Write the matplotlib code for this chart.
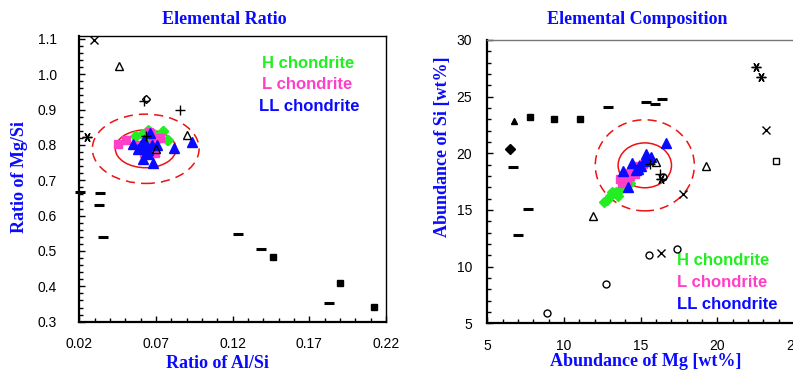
#!/usr/bin/env python3

import matplotlib
matplotlib.use('Agg')
import matplotlib.pyplot as plt
from matplotlib.patches import Ellipse
from matplotlib.ticker import MultipleLocator

# ---- left panel: Mg/Si vs Al/Si ----
h_alsi = [0.057, 0.0656, 0.0748, 0.0774, 0.061, 0.069, 0.072, 0.064, 0.0705, 0.0563, 0.0648, 0.078, 0.0744]
h_mgsi = [0.824, 0.838, 0.838, 0.813, 0.830, 0.832, 0.826, 0.820, 0.815, 0.824, 0.843, 0.815, 0.838]
l_alsi = [0.0454, 0.0505, 0.0705, 0.0694, 0.0622, 0.066, 0.0726, 0.059, 0.0683, 0.0657, 0.064]
l_mgsi = [0.803, 0.815, 0.820, 0.777, 0.777, 0.832, 0.820, 0.800, 0.808, 0.837, 0.790]
ll_alsi = [0.0552, 0.0583, 0.0617, 0.0683, 0.066, 0.082, 0.0937, 0.060, 0.063, 0.065,
           0.0675, 0.0705, 0.062, 0.0645, 0.0595]
ll_mgsi = [0.803, 0.788, 0.760, 0.750, 0.834, 0.790, 0.808, 0.800, 0.795, 0.785,
           0.800, 0.800, 0.815, 0.775, 0.790]

r_tri_x = [0.0459, 0.090, 0.070]
r_tri_y = [1.022, 0.829, 0.788]
r_cross_x = [0.0296]
r_cross_y = [1.098]
r_ast_x = [0.025]
r_ast_y = [0.822]
r_plus_x = [0.0622, 0.0859, 0.0633]
r_plus_y = [0.923, 0.900, 0.826]
r_dia_x = [0.0633]
r_dia_y = [0.931]
r_dash_x = [0.0205, 0.0335, 0.0326, 0.0353, 0.1235, 0.1387, 0.1826]
r_dash_y = [0.667, 0.663, 0.631, 0.540, 0.548, 0.505, 0.354]
r_sq_x = [0.1461, 0.1898, 0.2122]
r_sq_y = [0.482, 0.410, 0.341]

r_center = (0.0633, 0.789)
r_inner = (0.0396, 0.107)
r_outer = (0.0696, 0.196)

# ---- right panel: Si vs Mg [wt%] ----
h_mg = [12.6, 12.8, 13.0, 13.2, 13.4, 13.66, 13.9, 14.1, 14.31, 13.5, 13.1]
h_si = [15.7, 15.85, 16.2, 16.5, 16.6, 16.8, 17.1, 17.2, 17.4, 16.2, 16.6]
l_mg = [13.66, 13.8, 14.0, 14.2, 14.31, 14.5, 14.74, 14.9, 15.18, 14.1, 14.6]
l_si = [17.7, 17.4, 17.9, 18.3, 18.0, 18.6, 18.79, 18.9, 19.08, 17.6, 18.2]
ll_mg = [13.83, 14.46, 15.33, 15.66, 16.64, 14.16, 14.85, 15.0, 15.2, 14.7, 15.5, 14.9]
ll_si = [18.43, 19.14, 19.97, 19.67, 20.9, 17.03, 18.64, 18.9, 19.3, 18.5, 19.5, 18.9]

c_ast_x = [22.55, 22.83, 16.3]
c_ast_y = [27.59, 26.77, 17.7]
c_cross_x = [23.2, 17.79, 16.31]
c_cross_y = [22.1, 16.38, 11.21]
c_osq_x = [23.81]
c_osq_y = [19.29]
c_tri_x = [19.25, 11.92, 16.02]
c_tri_y = [18.87, 14.45, 19.23]
c_circ_x = [15.53, 17.35, 12.72, 8.87, 16.45]
c_circ_y = [11.07, 11.54, 8.46, 5.88, 17.9]
c_dia_x = [6.50]
c_dia_y = [20.37]
c_ftri_x = [6.76]
c_ftri_y = [22.83]
c_sq_x = [7.79, 9.33, 11.05]
c_sq_y = [23.22, 23.05, 23.05]
c_dash_x = [12.89, 15.37, 15.94, 16.37, 6.66, 7.63, 6.98]
c_dash_y = [24.13, 24.57, 24.37, 24.8, 18.76, 15.12, 12.77]
c_plus_x = [15.61, 16.25]
c_plus_y = [19.02, 18.2]

c_center = (15.27, 18.94)
c_inner = (3.48, 3.96)
c_outer = (6.46, 8.04)

green = '#22ee22'
pink = '#ff3fc8'
blue = '#0a0aff'
red = '#ee1111'
ast = (6, 2, 90)

serif = 'Liberation Serif'
sans = 'Liberation Sans'

fig = plt.figure(figsize=(7.93, 3.72), dpi=100)
ax1 = fig.add_axes([0.1, 0.1352, 0.3868, 0.768])
ax2 = fig.add_axes([0.6145, 0.1309, 0.3868, 0.7616])


def style(ax, ypad):
    ax.tick_params(which='both', direction='in', top=False, right=False)
    ax.tick_params(which='major', length=4, width=1)
    ax.tick_params(which='minor', length=3, width=1)
    ax.tick_params(axis='y', pad=ypad)
    ax.tick_params(axis='x', pad=11)
    for lab in ax.get_xticklabels() + ax.get_yticklabels():
        lab.set_fontfamily(sans)
        lab.set_fontsize(10)
    ax.spines['left'].set_linewidth(1.6)
    ax.spines['bottom'].set_linewidth(1.6)
    ax.spines['top'].set_linewidth(1.0)
    ax.spines['right'].set_linewidth(1.0)


def black(ax, x, y, m, ms, fill=True, mew=1.0):
    ax.plot(x, y, linestyle='none', marker=m, markersize=ms,
            markerfacecolor='black' if fill else 'none', markeredgecolor='black',
            markeredgewidth=mew, clip_on=False, zorder=4)


# left panel
ax1.add_patch(Ellipse(r_center, r_outer[0], r_outer[1], fill=False, ec=red, lw=1.1,
                      ls=(0, (6, 4)), zorder=2))
ax1.add_patch(Ellipse(r_center, r_inner[0], r_inner[1], fill=False, ec=red, lw=1.1, zorder=2))
ax1.plot(h_alsi, h_mgsi, 'D', color=green, ms=5, mec=green, zorder=3)
ax1.plot(l_alsi, l_mgsi, 's', color=pink, ms=5.5, mec=pink, zorder=3)
ax1.plot(ll_alsi, ll_mgsi, '^', color=blue, ms=6.5, mec=blue, zorder=3)
black(ax1, r_tri_x, r_tri_y, '^', 6, fill=False)
black(ax1, r_cross_x, r_cross_y, 'x', 6)
black(ax1, r_ast_x, r_ast_y, ast, 7)
black(ax1, r_plus_x, r_plus_y, '+', 7)
black(ax1, r_dia_x, r_dia_y, 'D', 4, fill=False)
black(ax1, r_dash_x, r_dash_y, '_', 7, mew=2.2)
black(ax1, r_sq_x, r_sq_y, 's', 4)

ax1.set_xlim(0.02, 0.22)
ax1.set_ylim(0.3, 1.108)
ax1.set_xticks([0.02, 0.07, 0.12, 0.17, 0.22])
ax1.set_xticklabels(['0.02', '0.07', '0.12', '0.17', '0.22'])
ax1.set_yticks([0.3, 0.4, 0.5, 0.6, 0.7, 0.8, 0.9, 1.0, 1.1])
ax1.xaxis.set_minor_locator(MultipleLocator(0.01))
ax1.yaxis.set_minor_locator(MultipleLocator(0.02))
style(ax1, 16)

ax1.text(0.595, 0.905, 'H chondrite', transform=ax1.transAxes, color=green,
         fontfamily=sans, fontweight='bold', fontsize=12, va='center')
ax1.text(0.595, 0.83, 'L chondrite', transform=ax1.transAxes, color=pink,
         fontfamily=sans, fontweight='bold', fontsize=12, va='center')
ax1.text(0.587, 0.755, 'LL chondrite', transform=ax1.transAxes, color=blue,
         fontfamily=sans, fontweight='bold', fontsize=12, va='center')

# right panel
ax2.add_patch(Ellipse(c_center, c_outer[0], c_outer[1], fill=False, ec=red, lw=1.1,
                      ls=(0, (6, 4)), zorder=2))
ax2.add_patch(Ellipse(c_center, c_inner[0], c_inner[1], fill=False, ec=red, lw=1.1, zorder=2))
ax2.plot(h_mg, h_si, 'D', color=green, ms=5, mec=green, zorder=3)
ax2.plot(l_mg, l_si, 's', color=pink, ms=5.5, mec=pink, zorder=3)
ax2.plot(ll_mg, ll_si, '^', color=blue, ms=6.5, mec=blue, zorder=3)
black(ax2, c_ast_x, c_ast_y, ast, 7)
black(ax2, c_cross_x, c_cross_y, 'x', 6)
black(ax2, c_osq_x, c_osq_y, 's', 5, fill=False)
black(ax2, c_tri_x, c_tri_y, '^', 6, fill=False)
black(ax2, c_circ_x, c_circ_y, 'o', 5, fill=False)
black(ax2, c_dia_x, c_dia_y, 'D', 5)
black(ax2, c_ftri_x, c_ftri_y, '^', 4.5)
black(ax2, c_sq_x, c_sq_y, 's', 4)
black(ax2, c_dash_x, c_dash_y, '_', 7, mew=2.2)
black(ax2, c_plus_x, c_plus_y, '+', 7)

ax2.set_xlim(5, 25)
ax2.set_ylim(5, 30)
ax2.set_xticks([5, 10, 15, 20, 25])
ax2.set_yticks([5, 10, 15, 20, 25, 30])
ax2.xaxis.set_minor_locator(MultipleLocator(1))
ax2.yaxis.set_minor_locator(MultipleLocator(1))
style(ax2, 11)
ax2.spines['top'].set_color('#777777')

ax2.text(0.62, 0.22, 'H chondrite', transform=ax2.transAxes, color=green,
         fontfamily=sans, fontweight='bold', fontsize=12, va='center')
ax2.text(0.62, 0.145, 'L chondrite', transform=ax2.transAxes, color=pink,
         fontfamily=sans, fontweight='bold', fontsize=12, va='center')
ax2.text(0.62, 0.065, 'LL chondrite', transform=ax2.transAxes, color=blue,
         fontfamily=sans, fontweight='bold', fontsize=12, va='center')

# titles and axis labels
lab = dict(fontfamily=serif, fontweight='bold', fontsize=13, color=blue,
           ha='center', va='center')
fig.text(224 / 793, 1 - 20 / 372, 'Elemental Ratio', **lab)
fig.text(637 / 793, 1 - 20 / 372, 'Elemental Composition', **lab)
fig.text(217 / 793, 1 - 364 / 372, 'Ratio of Al/Si', **lab)
fig.text(646 / 793, 1 - 361 / 372, 'Abundance of Mg [wt%]', **lab)
fig.text(19.5 / 793, 1 - 177 / 372, 'Ratio of Mg/Si', rotation=90, **lab)
fig.text(442.5 / 793, 1 - 147 / 372, 'Abundance of Si [wt%]', rotation=90, **lab)

fig.savefig('out.png', dpi=100)
